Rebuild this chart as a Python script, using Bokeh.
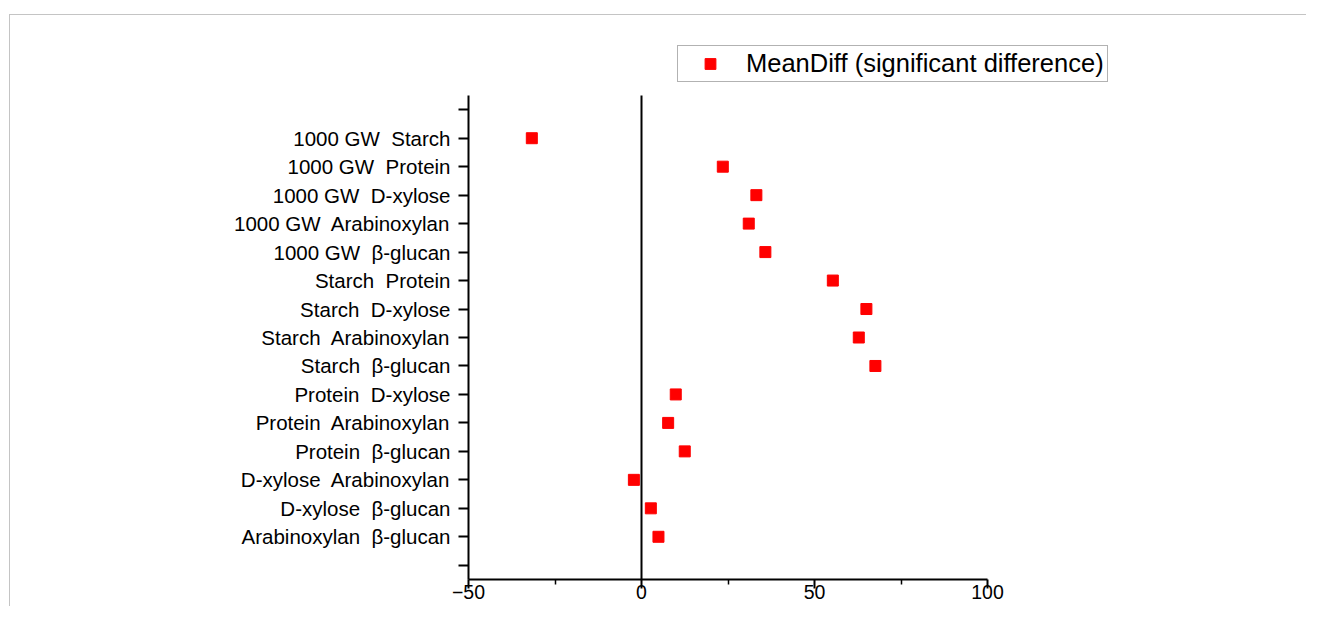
from bokeh.plotting import figure
from bokeh.models import Range1d, FixedTicker, Legend, LegendItem, ColumnDataSource
from bokeh.embed import file_html
from bokeh.resources import INLINE

# ---- data ----
comparisons = [
    "1000 GW  Starch", "1000 GW  Protein", "1000 GW  D-xylose",
    "1000 GW  Arabinoxylan", "1000 GW  β-glucan", "Starch  Protein",
    "Starch  D-xylose", "Starch  Arabinoxylan", "Starch  β-glucan",
    "Protein  D-xylose", "Protein  Arabinoxylan", "Protein  β-glucan",
    "D-xylose  Arabinoxylan", "D-xylose  β-glucan", "Arabinoxylan  β-glucan",
]
mean_diff = [-31.7, 23.5, 33.2, 31.0, 35.8, 55.3, 65.0, 62.8, 67.6,
             9.9, 7.7, 12.5, -2.2, 2.7, 4.9]
x_major_ticks = [-50, 0, 50, 100]
x_minor_ticks = [-25, 25, 75]
legend_label = "MeanDiff (significant difference)"

n = len(comparisons)
ypos = [n - i for i in range(n)]          # top row highest
y_ticks = list(range(0, n + 2))
y_overrides = {0: "", n + 1: ""}
for i, name in enumerate(comparisons):
    y_overrides[n - i] = name.replace("  ", "\u00a0 ")

FONT = "Liberation Sans"

# ---- layout (pixels) ----
W, H = 1306, 606
frame_left, frame_right = 468, 1120      # frame extends right to host the legend
frame_top, frame_bottom = 40, 579        # frame extends up to host the legend
axis_top_px = 95
x_lo, x_hi = -50, 100
y_lo, y_hi = -0.5, n + 1.5
x_axis_px_right = 987

px_per_x = (x_axis_px_right - frame_left) / (x_hi - x_lo)
px_per_y = (frame_bottom - axis_top_px) / (y_hi - y_lo)
x_end = x_lo + (frame_right - frame_left) / px_per_x
y_end = y_lo + (frame_bottom - frame_top) / px_per_y

p = figure(width=W, height=H, output_backend="svg", toolbar_location=None,
           x_range=Range1d(x_lo, x_end), y_range=Range1d(y_lo, y_end),
           min_border_left=frame_left, min_border_right=W - frame_right,
           min_border_top=frame_top, min_border_bottom=H - frame_bottom)
p.outline_line_color = None
p.xgrid.visible = False
p.ygrid.visible = False
p.background_fill_color = "white"
p.border_fill_alpha = 0
p.styles = {
    "background-image": "linear-gradient(#c4c4c4, #c4c4c4), linear-gradient(#c4c4c4, #c4c4c4)",
    "background-size": "100% 1px, 1px 100%",
    "background-position": "9px 14px, 9px 14px",
    "background-repeat": "no-repeat",
}

# zero reference line spanning the y-axis extent
p.segment(x0=[0], y0=[y_lo], x1=[0], y1=[y_hi], line_color="black", line_width=2)

src = ColumnDataSource(dict(x=mean_diff, y=ypos))
r = p.scatter("x", "y", source=src, marker="square", size=11,
              fill_color="#ff0000", line_color="#ff0000")

# x axis
xa = p.xaxis[0]
xa.bounds = (x_lo, x_hi)
xa.ticker = FixedTicker(ticks=x_major_ticks, minor_ticks=x_minor_ticks)
xa.axis_line_width = 2
xa.axis_line_color = "black"
xa.major_tick_line_width = 2
xa.major_tick_line_color = "black"
xa.major_tick_out = 9
xa.major_tick_in = 0
xa.minor_tick_line_width = 1.5
xa.minor_tick_line_color = "black"
xa.minor_tick_out = 5
xa.minor_tick_in = 0
xa.major_label_text_font = FONT
xa.major_label_text_font_size = "19.5px"
xa.major_label_text_color = "black"
xa.major_label_standoff = -4

# y axis
ya = p.yaxis[0]
ya.bounds = (y_lo, y_hi)
ya.ticker = FixedTicker(ticks=y_ticks, minor_ticks=[])
ya.major_label_overrides = y_overrides
ya.axis_line_width = 2
ya.axis_line_color = "black"
ya.major_tick_line_width = 2
ya.major_tick_line_color = "black"
ya.major_tick_out = 10
ya.major_tick_in = 0
ya.minor_tick_line_color = None
ya.major_label_text_font = FONT
ya.major_label_text_font_size = "20.5px"
ya.major_label_text_color = "black"
ya.major_label_standoff = 8

legend = Legend(items=[LegendItem(label=legend_label, renderers=[r])],
                location=(677 - frame_left, frame_bottom - 82))
legend.label_text_font = FONT
legend.label_text_font_size = "25.5px"
legend.label_text_color = "black"
legend.border_line_color = "#666666"
legend.border_line_width = 1
legend.padding = 3
legend.glyph_width = 58
legend.glyph_height = 27
legend.label_standoff = 7
legend.background_fill_color = "white"
legend.background_fill_alpha = 1
p.add_layout(legend, "center")

open("out.html", "w").write(file_html(p, INLINE))
